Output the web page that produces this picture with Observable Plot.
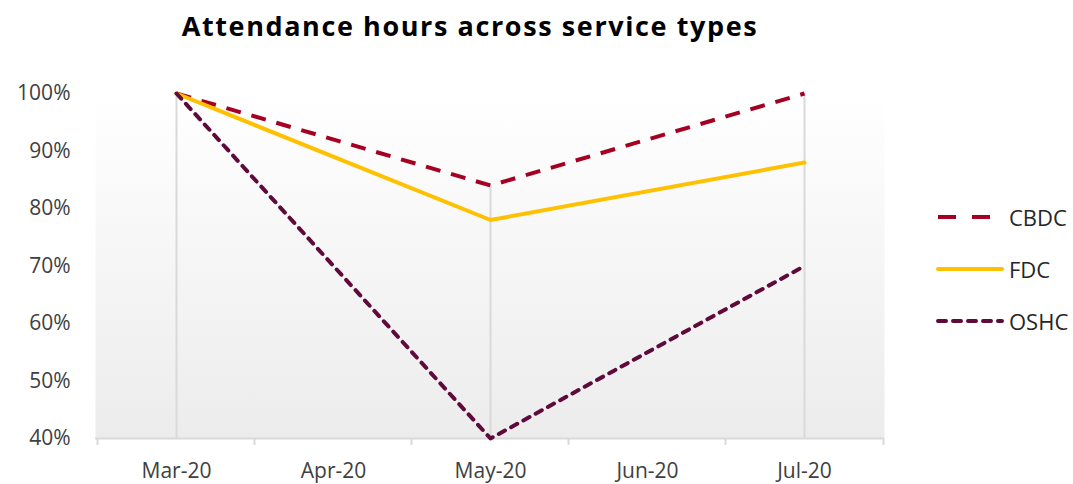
<!DOCTYPE html>
<html><head><meta charset="utf-8">
<script src="https://cdn.jsdelivr.net/npm/d3@7"></script>
<script src="https://cdn.jsdelivr.net/npm/@observablehq/plot@0.6"></script>
<style>
body{margin:0;background:#fff;font-family:"Open Sans",sans-serif;}
#wrap{position:relative;width:1073px;height:484px;}
#title{position:absolute;left:0;width:940px;top:8px;text-align:center;font-weight:bold;font-size:27px;letter-spacing:1.6px;color:#000;line-height:36px;}
#legend{position:absolute;left:936px;top:191px;}
.item{display:flex;align-items:center;height:52px;font-size:22px;color:#262626;}
.item svg{margin-right:5px;}
</style></head>
<body><div id="wrap"><div id="title">Attendance hours across service types</div><div id="chart"></div><div id="legend"></div></div>
<script>
const months = ["Mar-20","Apr-20","May-20","Jun-20","Jul-20"];
const seriesNames = ["CBDC","FDC","OSHC"];
const dataMonths = ["Mar-20","May-20","Jul-20"];
const cbdc = [100, 84, 100];
const fdc = [100, 78, 88];
const oshc = [100, 40, 70];
const yTicks = [40,50,60,70,80,90,100];

const styles = {
  CBDC:{stroke:"#a50021", dash:"15,11", legDash:"18,16", cap:"butt"},
  FDC:{stroke:"#ffc000", dash:null, legDash:null, cap:"round"},
  OSHC:{stroke:"#5e0b3c", dash:"7,7", legDash:"8,7", cap:"round"}
};
const rows = [];
[cbdc,fdc,oshc].forEach((vals,si)=>vals.forEach((v,i)=>rows.push({series:seriesNames[si],month:dataMonths[i],value:v})));
const maxByMonth = dataMonths.map(m=>({month:m,value:d3.max(rows.filter(r=>r.month===m),r=>r.value)}));

const defs = () => {
  const g = d3.create("svg:defs");
  const lg = g.append("linearGradient").attr("id","bg").attr("x1",0).attr("y1",0).attr("x2",0).attr("y2",1);
  lg.append("stop").attr("offset","0%").attr("stop-color","#ffffff");
  lg.append("stop").attr("offset","100%").attr("stop-color","#ececec");
  return g.node();
};

const chart = Plot.plot({
  width:1073, height:484,
  marginLeft:95, marginRight:189, marginTop:93, marginBottom:46,
  style:{fontFamily:"'Open Sans', sans-serif", fontSize:"21px", color:"#404040", background:"transparent"},
  x:{type:"point", domain:months, padding:0.5, label:null},
  y:{domain:[40,100], label:null},
  marks:[
    defs,
    Plot.frame({fill:"url(#bg)", stroke:null}),
    Plot.axisY({ticks:yTicks, tickFormat:d=>d+"%", tickSize:0, tickPadding:25, fill:"#404040"}),
    Plot.axisX({tickSize:0, tickPadding:25, fill:"#404040"}),
    Plot.ruleX(maxByMonth,{x:"month", y1:40, y2:"value", stroke:"#d9d9d9", strokeWidth:2}),
    Plot.ruleY([40],{stroke:"#d9d9d9", strokeWidth:2}),
    Plot.ruleX(months,{x:d=>d, y1:40, y2:40, dx:-79, insetBottom:-7, stroke:"#d9d9d9", strokeWidth:2}),
    Plot.ruleX([months[months.length-1]],{x:d=>d, y1:40, y2:40, dx:79, insetBottom:-7, stroke:"#d9d9d9", strokeWidth:2}),
    ...seriesNames.map(s=>Plot.line(rows.filter(r=>r.series===s),{x:"month", y:"value", stroke:styles[s].stroke, strokeWidth:4, strokeDasharray:styles[s].dash, strokeLinecap:styles[s].cap, strokeLinejoin:"round"}))
  ]
});
document.getElementById("chart").appendChild(chart);

const leg = document.getElementById("legend");
seriesNames.forEach(s=>{
  const st = styles[s];
  leg.insertAdjacentHTML("beforeend", `<div class="item"><svg width="68" height="10"><line x1="2" y1="5" x2="66" y2="5" stroke="${st.stroke}" stroke-width="4" ${st.legDash?`stroke-dasharray="${st.legDash}"`:''} stroke-linecap="${st.cap}"/></svg><span>${s}</span></div>`);
});
</script></body></html>
